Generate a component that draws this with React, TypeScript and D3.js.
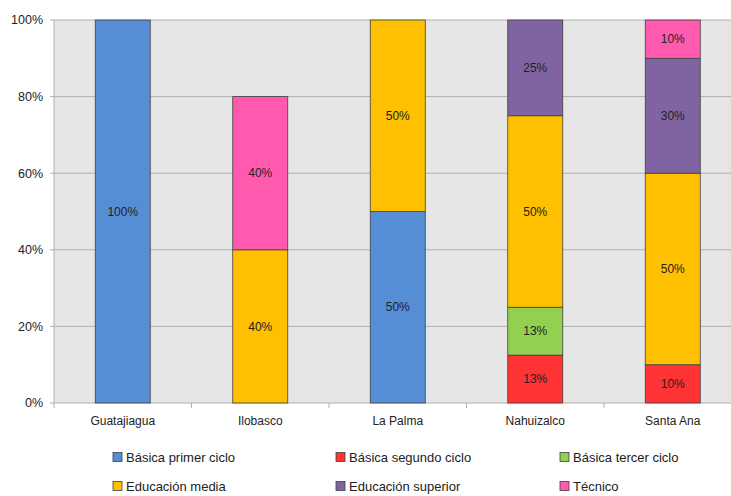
import React from "react";
import * as d3 from "d3";

const categories = ["Guatajiagua", "Ilobasco", "La Palma", "Nahuizalco", "Santa Ana"];
const seriesNames = [
  "Básica primer ciclo",
  "Básica segundo ciclo",
  "Básica tercer ciclo",
  "Educación media",
  "Educación superior",
  "Técnico",
];
const primerCiclo = [100, 0, 50, 0, 0];
const segundoCiclo = [0, 0, 0, 12.5, 10];
const tercerCiclo = [0, 0, 0, 12.5, 0];
const educacionMedia = [0, 40, 50, 50, 50];
const educacionSuperior = [0, 0, 0, 25, 30];
const tecnico = [0, 40, 0, 0, 10];
const yTicks = [0, 20, 40, 60, 80, 100];

const colors = ["#558ED5", "#FF3333", "#92D050", "#FFC000", "#8064A2", "#FF5AAE"];

export default function App() {
  const W = 731, H = 496;
  const left = 54, top = 20, bottom = 403;
  const bandW = 137.5;
  const x = d3.scaleBand<string>().domain(categories).range([left, left + bandW * categories.length]).paddingInner(0).paddingOuter(0);
  const y = d3.scaleLinear().domain([0, 100]).range([bottom, top]);
  const seriesVals = [primerCiclo, segundoCiclo, tercerCiclo, educacionMedia, educacionSuperior, tecnico];
  const rows = categories.map((c, i) => {
    const r: any = { cat: c };
    seriesNames.forEach((s, j) => (r[s] = seriesVals[j][i]));
    return r;
  });
  const stacked = d3.stack().keys(seriesNames)(rows);
  const barW = x.bandwidth() * 0.4;
  const font = "'Liberation Sans', Arial, sans-serif";
  const legendCols = [113, 336, 560];
  const legendRows = [457, 486];

  return (
    <svg width={W} height={H} style={{ position: "absolute", left: 0, top: 0 }} fontFamily={font}>
      <rect x={0} y={0} width={W} height={H} fill="#fff" />
      <rect x={left} y={top} width={W - left} height={bottom - top} fill="#E6E6E6" />
      {yTicks.map((t) => (
        <g key={t}>
          <line x1={left - 4} x2={W} y1={y(t)} y2={y(t)} stroke="#B0B0B0" strokeWidth={1} />
          <text x={43} y={y(t)} dy="0.35em" textAnchor="end" fontSize={12.5} fill="#222">
            {t}%
          </text>
        </g>
      ))}
      <line x1={left} x2={left} y1={top} y2={bottom + 5} stroke="#B0B0B0" />
      {categories.map((c, i) => (
        <g key={c}>
          <line x1={(x(c) as number) + bandW} x2={(x(c) as number) + bandW} y1={bottom} y2={bottom + 5} stroke="#B0B0B0" />
          <text x={(x(c) as number) + bandW / 2} y={421} dy="0.35em" textAnchor="middle" fontSize={12} fill="#222">
            {c}
          </text>
        </g>
      ))}
      {stacked.map((s, j) =>
        s.map((d, i) => {
          const v = d[1] - d[0];
          if (v <= 0) return null;
          const cx = (x(categories[i]) as number) + bandW / 2;
          return (
            <g key={j + "-" + i}>
              <rect x={cx - barW / 2} y={y(d[1])} width={barW} height={y(d[0]) - y(d[1])} fill={colors[j]} stroke="#404040" strokeWidth={0.8} />
              <text x={cx} y={(y(d[0]) + y(d[1])) / 2} dy="0.35em" textAnchor="middle" fontSize={12} fill="#222">
                {Math.round(v)}%
              </text>
            </g>
          );
        })
      )}
      {seriesNames.map((s, j) => {
        const col = j % 3;
        const row = Math.floor(j / 3);
        const lx = legendCols[col];
        const ly = legendRows[row];
        return (
          <g key={s}>
            <rect x={lx} y={ly - 4.5} width={9} height={9} fill={colors[j]} stroke="#404040" strokeWidth={0.8} />
            <text x={lx + 13} y={ly} dy="0.35em" fontSize={13} fill="#222">
              {s}
            </text>
          </g>
        );
      })}
    </svg>
  );
}
